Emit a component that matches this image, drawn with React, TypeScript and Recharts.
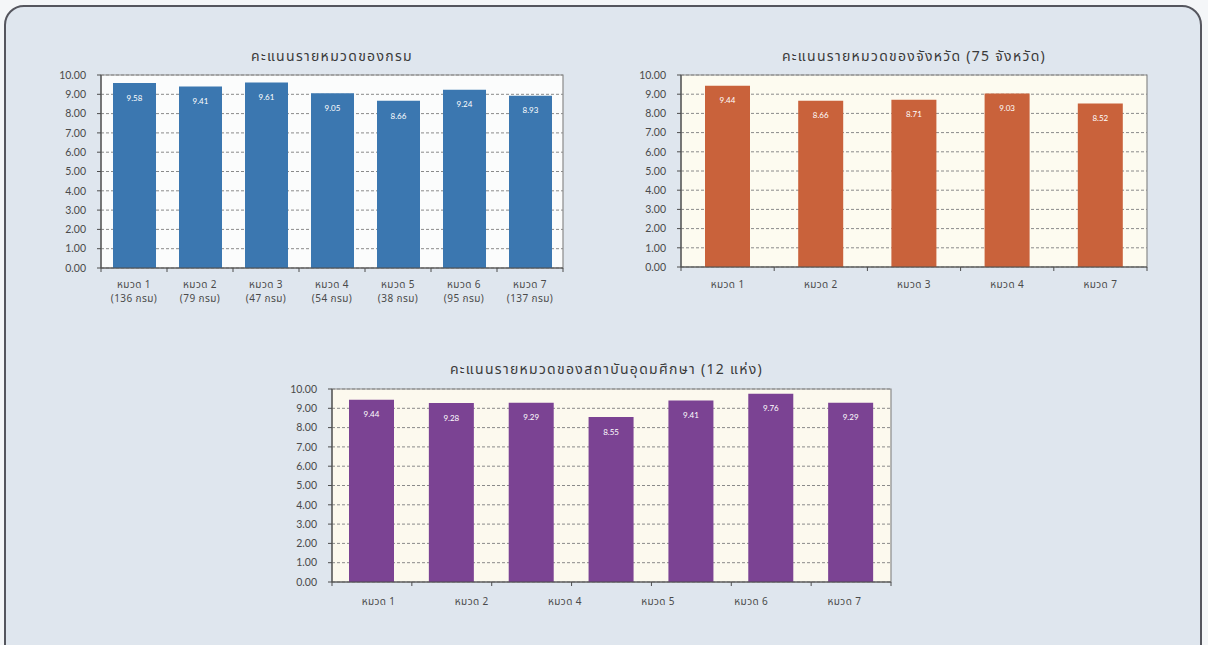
import React from 'react';
import { BarChart, Bar, XAxis, YAxis, CartesianGrid, ReferenceArea, LabelList } from 'recharts';

// Department scores by category
const deptGroups = ['หมวด 1', 'หมวด 2', 'หมวด 3', 'หมวด 4', 'หมวด 5', 'หมวด 6', 'หมวด 7'];
const deptCounts = ['(136 กรม)', '(79 กรม)', '(47 กรม)', '(54 กรม)', '(38 กรม)', '(95 กรม)', '(137 กรม)'];
const deptScores = [9.58, 9.41, 9.61, 9.05, 8.66, 9.24, 8.93];

// Province scores by category
const provinceGroups = ['หมวด 1', 'หมวด 2', 'หมวด 3', 'หมวด 4', 'หมวด 7'];
const provinceScores = [9.44, 8.66, 8.71, 9.03, 8.52];

// Higher-education institution scores (seven bars, six axis labels)
const universityGroups = ['หมวด 1', 'หมวด 2', 'หมวด 4', 'หมวด 5', 'หมวด 6', 'หมวด 7'];
const universityScores = [9.44, 9.28, 9.29, 8.55, 9.41, 9.76, 9.29];

const yTicks = [0, 1, 2, 3, 4, 5, 6, 7, 8, 9, 10];

const FONT = "'Noto Sans Thai', 'Noto Sans', Lato, 'DejaVu Sans', sans-serif";
const AXIS = '#4d4d4d';
const Y_WIDTH = 50;

// Category tick: draws the boundary marks of its band and, when one is
// assigned, the label(s) of the matching label slot (labels may be spread
// over a different number of equal slots than the bars).
function makeTick(n: number, plotWidth: number, labels: string[][], dy: number) {
  const bw = plotWidth / n;
  const lw = plotWidth / labels.length;
  return (props: any) => {
    const { x, y, index } = props;
    const start = x - (index + 0.5) * bw;
    const lab = labels[index];
    const lx = start + (index + 0.5) * lw;
    return (
      <g>
        <line x1={x - bw / 2} x2={x - bw / 2} y1={y} y2={y + 4} stroke={AXIS} />
        {index === n - 1 && <line x1={x + bw / 2} x2={x + bw / 2} y1={y} y2={y + 4} stroke={AXIS} />}
        {lab && (
          <text x={lx} y={y + dy} textAnchor="middle" fontSize={10} fill="#4a4a4a" fontFamily={FONT} letterSpacing={0.4}>
            {lab.map((s, i) => (
              <tspan key={i} x={lx} dy={i === 0 ? 0 : 14}>
                {s}
              </tspan>
            ))}
          </text>
        )}
      </g>
    );
  };
}

type ChartProps = {
  title: string;
  left: number;
  top: number;
  width: number;
  height: number;
  margin: { top: number; right: number; bottom: number; left: number };
  xHeight: number;
  scores: number[];
  labels: string[][];
  color: string;
  plotFill: string;
  barSize: number;
  labelDy: number;
  titleTop: number;
  titleShift?: number;
};

function ScoreChart(p: ChartProps) {
  const n = p.scores.length;
  const rows = p.scores.map((score, i) => ({ slot: i, score }));
  const plotLeft = p.margin.left + Y_WIDTH;
  const plotRight = p.width - p.margin.right;
  const center = p.left + (plotLeft + plotRight) / 2 + (p.titleShift || 0);
  return (
    <>
      <div
        style={{
          position: 'absolute',
          left: center - 250,
          width: 500,
          top: p.titleTop,
          textAlign: 'center',
          fontFamily: FONT,
          fontSize: 14,
          letterSpacing: 1.3,
          lineHeight: '16px',
          color: '#3a3a3a',
        }}
      >
        {p.title}
      </div>
      <div style={{ position: 'absolute', left: p.left, top: p.top }}>
        <BarChart width={p.width} height={p.height} data={rows} margin={p.margin}>
          <CartesianGrid vertical={false} fill={p.plotFill} fillOpacity={1} stroke="#8a8a8a" strokeDasharray="3 2" />
          <ReferenceArea y1={0} y2={10} fill="none" stroke="#8a8a8a" strokeWidth={1.2} />
          <XAxis
            dataKey="slot"
            interval={0}
            tickSize={0}
            tickMargin={0}
            tickLine={false}
            axisLine={{ stroke: AXIS, strokeWidth: 1.2 }}
            height={p.xHeight}
            tick={makeTick(n, plotRight - plotLeft, p.labels, p.labelDy)}
          />
          <YAxis
            width={Y_WIDTH}
            domain={[0, 10]}
            ticks={yTicks}
            interval={0}
            tickFormatter={(v: number) => v.toFixed(2)}
            tickSize={4}
            tickMargin={11}
            tickLine={{ stroke: AXIS }}
            axisLine={{ stroke: AXIS, strokeWidth: 1.2 }}
            tick={{ fontSize: 10.5, fill: '#4a4a4a', fontFamily: 'Lato, sans-serif' }}
          />
          <Bar dataKey="score" fill={p.color} barSize={p.barSize} isAnimationActive={false}>
            <LabelList
              dataKey="score"
              position="insideTop"
              offset={12}
              fill="#ffffff"
              fontSize={8}
              fontFamily="Lato, sans-serif"
              formatter={(v: any) => Number(v).toFixed(2)}
            />
          </Bar>
        </BarChart>
      </div>
    </>
  );
}

export default function App() {
  return (
    <div
      style={{
        position: 'absolute',
        left: 0,
        top: 0,
        width: 1208,
        height: 645,
        overflow: 'hidden',
        background: '#f4f6f8',
      }}
    >
      <div
        style={{
          position: 'absolute',
          left: 4,
          top: 5,
          width: 1194,
          height: 720,
          border: '2px solid #55565e',
          borderRadius: 20,
          background: '#dfe6ee',
        }}
      />
      <ScoreChart
        title="คะแนนรายหมวดของกรม"
        left={0}
        top={40}
        width={600}
        height={280}
        margin={{ top: 35, right: 37, bottom: 12, left: 51 }}
        xHeight={40}
        scores={deptScores}
        labels={deptGroups.map((g, i) => [g, deptCounts[i]])}
        color="#3b77b0"
        plotFill="#fbfcfc"
        barSize={43}
        labelDy={20}
        titleTop={49}
      />
      <ScoreChart
        title="คะแนนรายหมวดของจังหวัด (75 จังหวัด)"
        left={600}
        top={40}
        width={600}
        height={280}
        margin={{ top: 35, right: 53, bottom: 13, left: 31 }}
        xHeight={40}
        scores={provinceScores}
        labels={provinceGroups.map((g) => [g])}
        color="#c9623b"
        plotFill="#fdfbf0"
        barSize={45}
        labelDy={21}
        titleTop={49}
      />
      <ScoreChart
        title="คะแนนรายหมวดของสถาบันอุดมศึกษา (12 แห่ง)"
        left={250}
        top={350}
        width={700}
        height={280}
        margin={{ top: 39, right: 59, bottom: 12, left: 32 }}
        xHeight={36}
        scores={universityScores}
        labels={universityGroups.map((g) => [g])}
        color="#7b4393"
        plotFill="#fcf9ee"
        barSize={45}
        labelDy={23}
        titleTop={362}
        titleShift={-5}
      />
    </div>
  );
}
